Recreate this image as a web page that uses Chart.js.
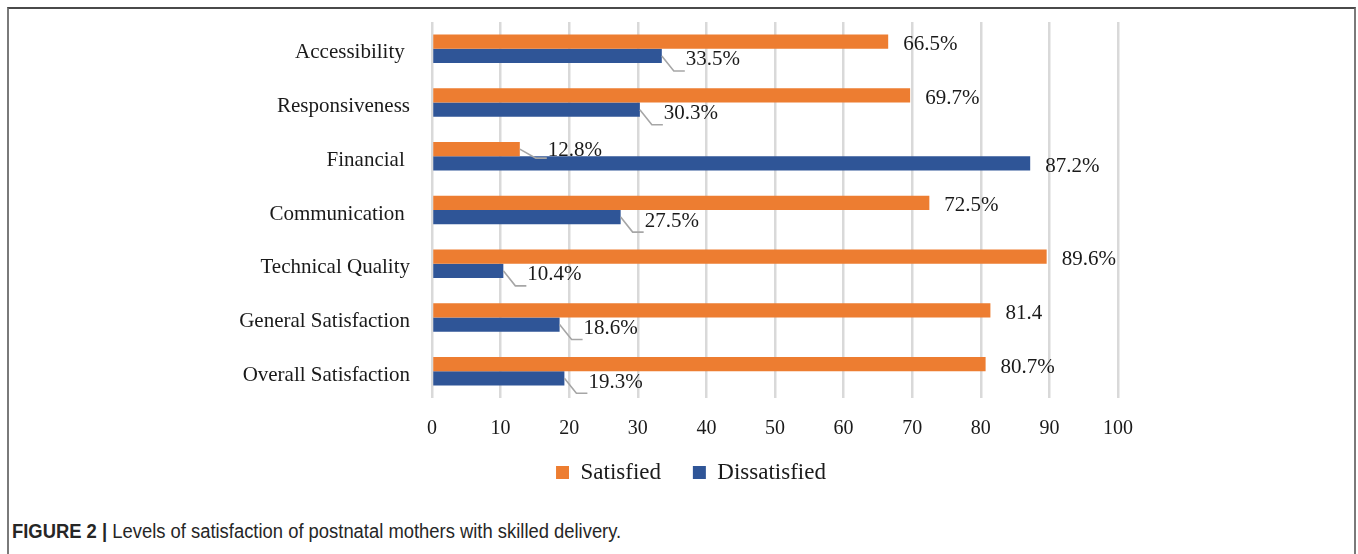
<!DOCTYPE html>
<html>
<head>
<meta charset="utf-8">
<script src="https://cdn.jsdelivr.net/npm/chart.js@4.4.1/dist/chart.umd.min.js"></script>
<style>
  html, body { margin: 0; padding: 0; background: #fff; width: 1358px; height: 554px; overflow: hidden; }
  #frame { position: absolute; left: 7px; top: 7px; width: 1349px; height: 600px; box-sizing: border-box;
           border-top: 2px solid #4a4a4a; border-left: 2px solid #7a7a7a; border-right: 2px solid #7a7a7a; }
  #wrap { position: absolute; left: 0; top: 0; width: 1358px; height: 494px; }
  #cap { position: absolute; left: 12px; top: 520px; font-family: "Liberation Sans", Arial, sans-serif;
         font-size: 20px; color: #262626; white-space: nowrap; transform: scaleX(0.92); transform-origin: 0 50%; }
  #cap b { font-weight: bold; color: #262626; }
</style>
</head>
<body>
<div id="frame"></div>
<div id="wrap"><canvas id="c" width="1358" height="494"></canvas></div>
<div id="cap"><b>FIGURE 2 |</b> Levels of satisfaction of postnatal mothers with skilled delivery.</div>
<script>
// ---- data ----
const categories = ['Accessibility ', 'Responsiveness', 'Financial ', 'Communication ', 'Technical Quality', 'General Satisfaction', 'Overall Satisfaction'];
const satisfied = [66.5, 69.7, 12.8, 72.5, 89.6, 81.4, 80.7];
const dissatisfied = [33.5, 30.3, 87.2, 27.5, 10.4, 18.6, 19.3];
const satisfiedSuffix = ['%', '%', '%', '%', '%', '', '%'];
const dissatisfiedSuffix = ['%', '%', '%', '%', '%', '%', '%'];
const seriesNames = ['Satisfied', 'Dissatisfied'];
const axisMin = 0, axisMax = 100, axisStep = 10;

const SERIF = '"Liberation Serif", "Times New Roman", serif';
const TEXT = '#1a1a1a';

const labelPlugin = {
  id: 'barLabels',
  afterDatasetsDraw(chart) {
    const ctx = chart.ctx;
    const series = [satisfied, dissatisfied];
    const suffixes = [satisfiedSuffix, dissatisfiedSuffix];
    ctx.save();
    ctx.font = '21px ' + SERIF;
    ctx.fillStyle = TEXT;
    ctx.textAlign = 'left';
    ctx.textBaseline = 'middle';
    chart.data.datasets.forEach((ds, di) => {
      const meta = chart.getDatasetMeta(di);
      const other = series[1 - di];
      meta.data.forEach((bar, i) => {
        const v = ds.data[i];
        const txt = v.toFixed(1) + suffixes[di][i];
        const x = bar.x, y = bar.y;
        if (v < other[i]) {
          const dx = di === 0 ? 16 : 12;
          const dy = di === 0 ? 9 : 15;
          ctx.strokeStyle = '#a6a6a6';
          ctx.lineWidth = 1.6;
          ctx.beginPath();
          ctx.moveTo(x, y);
          ctx.lineTo(x + dx, y + dy);
          ctx.lineTo(x + dx + 11, y + dy);
          ctx.stroke();
          ctx.fillText(txt, x + dx + 12, y + (di === 0 ? 1 : 4));
        } else {
          ctx.fillText(txt, x + 15, y + 3);
        }
      });
    });
    ctx.restore();
  }
};

new Chart(document.getElementById('c'), {
  type: 'bar',
  data: {
    labels: categories,
    datasets: [
      { label: seriesNames[0], data: satisfied, backgroundColor: '#ED7D31', borderWidth: 0 },
      { label: seriesNames[1], data: dissatisfied, backgroundColor: '#2F5597', borderWidth: 0 }
    ]
  },
  options: {
    indexAxis: 'y',
    responsive: false,
    animation: false,
    devicePixelRatio: 1,
    layout: { padding: { left: 24, right: 0, top: 22, bottom: 0 } },
    datasets: { bar: { categoryPercentage: 0.53, barPercentage: 1.0 } },
    scales: {
      x: {
        min: axisMin, max: axisMax,
        ticks: { stepSize: axisStep, font: { family: SERIF, size: 20 }, color: TEXT, padding: 19 },
        grid: { color: '#d9d9d9', lineWidth: 2.5, drawTicks: false },
        border: { display: false },
        afterFit(s) { s.height = 53; }
      },
      y: {
        grid: { display: false, drawTicks: false },
        border: { display: false },
        ticks: { font: { family: SERIF, size: 21 }, color: TEXT, padding: 22, labelOffset: 4 },
        afterFit(s) { s.width = 408; s.paddingTop = 0; s.paddingBottom = 0; }
      },
      yR: {
        type: 'category',
        position: 'right',
        grid: { display: false, drawTicks: false },
        border: { display: false },
        ticks: { display: false },
        afterFit(s) { s.width = 240; s.paddingTop = 0; s.paddingBottom = 0; }
      }
    },
    plugins: {
      legend: {
        position: 'bottom',
        labels: {
          font: { family: SERIF, size: 23 }, color: TEXT, boxWidth: 13, boxHeight: 13, padding: 10,
          generateLabels(chart) {
            const items = Chart.defaults.plugins.legend.labels.generateLabels(chart);
            items.forEach((it, i) => { if (i < items.length - 1) it.text += '   \u2009'; });
            return items;
          }
        }
      },
      tooltip: { enabled: false }
    }
  },
  plugins: [labelPlugin]
});
</script>
</body>
</html>
